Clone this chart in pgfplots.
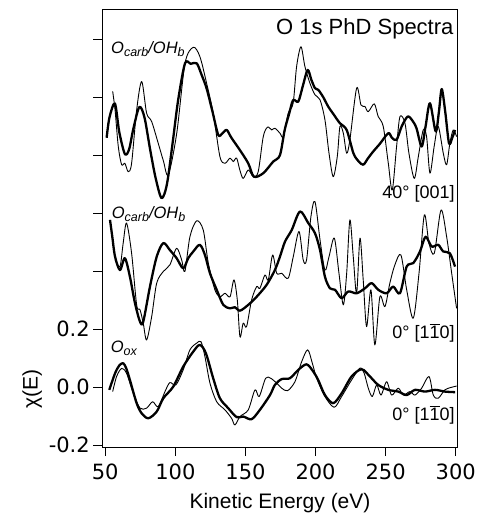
\documentclass[border=0pt]{standalone}
\usepackage{pgfplots}
\pgfplotsset{compat=1.18}
\usepackage{fontspec}
\setmainfont{Liberation Sans}
\newfontfamily\tickfont{DejaVu Sans}
\newcommand{\sub}[1]{\raisebox{-0.35ex}{\fontsize{12.5}{12.5}\selectfont #1}}
\newcommand{\bone}{$\overline{\mbox{1}}$}
\begin{document}
\begin{tikzpicture}
\begin{axis}[
  scale only axis, width=355.4pt, height=437.7pt,
  xmin=47.9, xmax=301.4, ymin=-0.206, ymax=1.303,
  xtick={50,100,150,200,250,300},
  xticklabels={50,100,150,200,250,300},
  ytick={-0.2,0,0.2,0.4,0.6,0.8,1.0,1.2},
  yticklabels={-0.2,0.0,0.2,,,,,},
  xtick pos=left, ytick pos=left,
  tick align=outside, major tick length=9pt,
  axis line style={line width=0.8pt},
  tick style={line width=0.8pt, black},
  ticklabel style={font=\tickfont\fontsize{21}{21}\selectfont},
  xticklabel style={yshift=-4pt},
  xlabel={Kinetic Energy (eV)},
  ylabel={χ(E)},
  label style={font=\fontsize{21}{21}\selectfont},
  xlabel style={yshift=-7pt},
  ylabel style={at={(ticklabel cs:0.137)}, xshift=-2pt},
  every axis plot/.append style={black, line join=round, smooth, tension=0.5},
  clip=true,
]
% top thick
\addplot[line width=2.3pt] coordinates {(51,0.86) (53,0.93) (56.9,0.978) (60,0.88) (64,0.804) (67,0.82) (70,0.89) (74.3,0.966) (78,0.93) (82,0.82) (86,0.72) (90.2,0.652) (94,0.7) (98,0.84) (102,0.99) (106.9,1.117) (111,1.115) (115.2,1.117) (118.5,1.08) (122.3,1.03) (126.5,0.95) (130.6,0.87) (133.5,0.875) (136.6,0.887) (140,0.86) (146,0.818) (152,0.772) (156,0.726) (162.7,0.738) (169.8,0.778) (174.6,0.80) (178,0.887) (181,0.94) (184,0.99) (187.7,0.985) (191,1.04) (194.4,1.094) (197,1.06) (199.6,1.031) (202,1.025) (205.5,1.0) (209,0.968) (213,0.94) (217.4,0.91) (222.2,0.887) (227,0.807) (230.5,0.78) (234,0.767) (237.5,0.79) (241,0.812) (246,0.84) (251.9,0.876) (254.5,0.86) (257.8,0.853) (261.5,0.9) (265.7,0.933) (269,0.92) (272,0.893) (275.7,0.83) (278.5,0.9) (281.6,0.979) (285.7,0.882) (288,0.95) (290,1.028) (292.5,0.95) (295.2,0.841) (297.5,0.86) (299.5,0.887)};
% top thin
\addplot[line width=0.9pt] coordinates {(55.3,1.02) (57,0.956) (59.3,0.83) (61.7,0.767) (64,0.772) (66.4,0.743) (68.8,0.772) (72.4,0.956) (76,1.054) (79.5,0.945) (83.1,0.916) (87.8,0.841) (91.5,0.78) (95,0.732) (101,0.876) (106.9,1.117) (112.8,1.172) (117.5,1.14) (122.3,1.048) (127,0.945) (131.8,0.795) (135.4,0.772) (139,0.79) (141.3,0.778) (143.7,0.79) (146,0.749) (148.4,0.72) (152,0.749) (155.6,0.726) (159.1,0.743) (162.7,0.864) (165.8,0.897) (168.7,0.887) (171,0.893) (174.6,0.876) (177,0.864) (180.5,0.945) (184,0.979) (186.5,1.106) (189.6,1.174) (192.4,1.106) (196,1.048) (199.6,1.008) (203.2,0.991) (206.7,0.922) (209.6,0.807) (212.6,0.726) (215.5,0.795) (217.4,0.899) (219.8,0.876) (222.2,0.807) (224.5,0.853) (229.3,1.031) (232.4,0.973) (235.2,0.968) (237.6,0.95) (241.9,0.977) (244.7,0.933) (248.3,0.899) (251.9,0.772) (254.7,0.68) (257.8,0.83) (260.2,0.933) (263.8,0.91) (266.6,0.807) (270.4,0.72) (273.3,0.795) (276.8,0.887) (279.2,0.864) (281.6,0.738) (284.6,0.83) (287.5,0.899) (291.1,0.807) (293.5,0.767) (295.8,0.841) (298.2,0.887) (300.6,0.864)};
% middle thick
\addplot[line width=2.3pt] coordinates {(53.4,0.577) (55,0.52) (57,0.45) (60.5,0.404) (64,0.445) (67.6,0.381) (71.2,0.29) (74.8,0.226) (77.1,0.226) (81.9,0.347) (86.7,0.45) (91.4,0.497) (96.1,0.473) (100.9,0.445) (105.6,0.41) (109.2,0.445) (112.8,0.468) (117.5,0.491) (121.1,0.456) (124.7,0.393) (129.5,0.336) (134.2,0.284) (139,0.272) (142.5,0.276) (146.1,0.264) (152,0.284) (158,0.312) (165.1,0.353) (171,0.404) (174.6,0.45) (178.2,0.502) (183,0.542) (188.9,0.606) (194.8,0.566) (199.6,0.531) (203.2,0.473) (206.7,0.381) (210.3,0.341) (213.9,0.336) (218.6,0.307) (223.3,0.33) (229.3,0.324) (235.2,0.341) (240,0.359) (244.7,0.336) (250.7,0.324) (255.4,0.347) (260.2,0.324) (265,0.416) (269.7,0.428) (274.5,0.468) (278.5,0.519) (282.8,0.485) (287.5,0.491) (291.1,0.468) (295.8,0.462) (299.5,0.416)};
% middle thin
\addplot[line width=0.9pt] coordinates {(57,0.44) (60.5,0.416) (62.8,0.497) (65.2,0.566) (68.8,0.462) (72.4,0.284) (74.8,0.267) (77.1,0.221) (79.5,0.163) (83.1,0.243) (86.7,0.359) (91.4,0.399) (96.1,0.422) (100.9,0.479) (104.5,0.439) (106.8,0.399) (110.4,0.519) (115.2,0.574) (119.9,0.542) (123.5,0.428) (128.2,0.336) (131.8,0.312) (135.4,0.324) (139,0.312) (141.8,0.37) (144.2,0.301) (146.1,0.174) (148.4,0.221) (150.8,0.209) (154.4,0.301) (158,0.347) (160.3,0.341) (163.9,0.387) (166.3,0.37) (169.4,0.456) (172.3,0.393) (175.8,0.393) (180.5,0.376) (184.1,0.45) (188.2,0.537) (191.2,0.439) (193.6,0.439) (196.7,0.588) (199.6,0.64) (203.2,0.508) (206.7,0.404) (209.6,0.45) (213.4,0.514) (216.7,0.393) (219.8,0.284) (222.2,0.393) (224.5,0.577) (226.9,0.45) (229.3,0.324) (231.7,0.514) (234,0.37) (236.4,0.209) (239.5,0.336) (242.3,0.146) (245.9,0.312) (249.5,0.278) (253,0.359) (256.6,0.422) (260.9,0.456) (265,0.336) (269.7,0.238) (273.8,0.393) (277.6,0.594) (280.9,0.497) (284.7,0.462) (289.5,0.611) (293.5,0.519) (297.1,0.393) (300.6,0.272)};
% bottom thick
\addplot[line width=2.3pt] coordinates {(52.9,-0.009) (57,0.048) (60,0.075) (62.8,0.083) (65,0.065) (67.6,0.025) (72.4,-0.055) (76,-0.09) (80.7,-0.107) (86.7,-0.084) (91.4,-0.038) (98.5,0.002) (105.6,0.071) (112.8,0.123) (117.5,0.146) (121.8,0.117) (127,0.031) (131.8,-0.038) (137.7,-0.072) (143.7,-0.103) (148.4,-0.101) (154.4,-0.11) (160.3,-0.078) (167.5,-0.027) (171,0.008) (175.8,0.028) (181.7,0.031) (187.7,0.06) (193.6,0.079) (198.4,0.054) (201.9,0.025) (206.7,-0.027) (212.6,-0.055) (218.6,-0.021) (225.7,0.037) (232.9,0.062) (238.8,0.037) (244.7,0.008) (251.9,-0.009) (259,-0.015) (265,-0.027) (270.9,-0.009) (278,-0.015) (285.2,-0.009) (292.3,-0.015) (299.5,-0.017)};
% bottom thin
\addplot[line width=0.9pt] coordinates {(55.3,-0.015) (58.1,0.037) (61.7,0.065) (65.2,0.048) (70,-0.021) (74.8,-0.072) (79.5,-0.072) (83.8,-0.05) (87.8,-0.067) (92.6,-0.015) (96.1,0.016) (100.4,0.008) (105.6,0.06) (110.4,0.129) (115.2,0.152) (118.3,0.157) (121.1,0.106) (124.7,0.014) (129.5,-0.05) (135.4,-0.078) (140.1,-0.107) (142.5,-0.13) (146.1,-0.101) (152,-0.078) (156.8,-0.009) (159.8,-0.032) (164.4,0.031) (168,0.031) (172.3,0.014) (175.8,-0.003) (180,-0.012) (185.3,0.019) (190.1,0.088) (194.4,0.129) (197.7,0.083) (200.8,0.031) (206.7,-0.032) (213.3,-0.069) (218.6,-0.032) (225.7,0.025) (231.7,0.066) (234.7,0.048) (237.6,-0.003) (240.5,-0.032) (243.6,0.008) (246.7,-0.027) (250.7,0.019) (254.3,-0.027) (259,-0.003) (262.6,-0.027) (267.3,-0.015) (270.9,-0.027) (275.7,-0.003) (280.9,0.037) (284,-0.027) (287.5,-0.038) (292.3,-0.009) (297.1,0) (300.6,0.004)};
% labels
\node[anchor=base east, inner sep=0pt, font=\fontsize{22}{22}\selectfont] at (axis cs:298.5,1.215) {O 1s PhD Spectra};
\node[anchor=base west, inner sep=0pt, font=\fontsize{16.5}{16.5}\selectfont\itshape] at (axis cs:54.1,1.152) {O\sub{carb}/OH\sub{b}};
\node[anchor=base east, inner sep=0pt, font=\fontsize{18}{18}\selectfont] at (axis cs:299.4,0.649) {40° [001]};
\node[anchor=base west, inner sep=0pt, font=\fontsize{16.5}{16.5}\selectfont\itshape] at (axis cs:54.6,0.583) {O\sub{carb}/OH\sub{b}};
\node[anchor=base east, inner sep=0pt, font=\fontsize{18}{18}\selectfont] at (axis cs:299.4,0.169) {0° [1\bone0]};
\node[anchor=base west, inner sep=0pt, font=\fontsize{16.5}{16.5}\selectfont\itshape] at (axis cs:53.9,0.119) {O\sub{ox}};
\node[anchor=base east, inner sep=0pt, font=\fontsize{18}{18}\selectfont] at (axis cs:299.4,-0.113) {0° [1\bone0]};
\end{axis}
\path (current axis.south west) ++(-102.3pt,-79pt) rectangle ++(481pt,526pt);
\end{tikzpicture}
\end{document}
